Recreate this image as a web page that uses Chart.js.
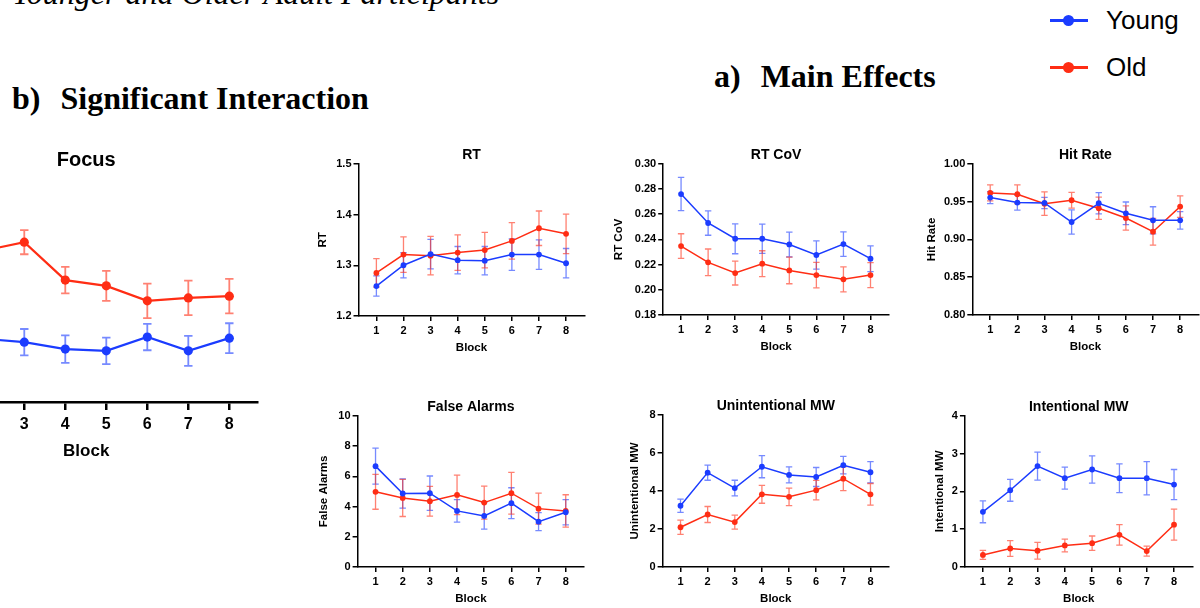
<!DOCTYPE html>
<html>
<head>
<meta charset="utf-8">
<title>Younger and Older Adult Participants</title>
<script src="https://cdn.jsdelivr.net/npm/chart.js@4.4.1/dist/chart.umd.min.js"></script>
<style>
  html, body { margin: 0; padding: 0; background: #fff; }
  body { width: 1200px; height: 608px; position: relative; overflow: hidden; }
  .panel { position: absolute; }
  .serif { position: absolute; font-family: "Liberation Serif", "Times New Roman", serif; font-size: 32px; white-space: nowrap; line-height: 1; }
  .heading { font-weight: bold; }
  .caption { font-style: italic; }
  .legend { position: absolute; left: 1050px; top: 0; font-family: "Liberation Sans", Arial, sans-serif; font-size: 26px; }
  .legend .row { position: absolute; left: 0; height: 30px; line-height: 30px; white-space: nowrap; }
  .legend .mark { position: absolute; left: 0; top: 14px; width: 38px; height: 3px; }
  .legend .mark::after { content: ""; position: absolute; left: 13px; top: -4px; width: 11px; height: 11px; border-radius: 50%; background: inherit; }
  .legend .label { position: absolute; left: 56px; top: 0; }
</style>
</head>
<body>

<div class="serif caption" style="left:12px; top:-23px;">Younger and Older Adult Participants</div>
<div class="serif heading" style="left:12px; top:82px;">b)<span style="margin-left:20px">Significant Interaction</span></div>
<div class="serif heading" style="left:714px; top:60px;">a)<span style="margin-left:20px">Main Effects</span></div>

<div class="legend">
  <div class="row" style="top:5px"><span class="mark" style="background:#1b3cff"></span><span class="label">Young</span></div>
  <div class="row" style="top:52px"><span class="mark" style="background:#ff2d14"></span><span class="label">Old</span></div>
</div>

<script>
// blocks on the x axis
const blocks = [1, 2, 3, 4, 5, 6, 7, 8];

// Focus (interaction)
const focusYoung    = [2.17, 2.10, 2.04, 1.92, 1.89, 2.13, 1.89, 2.11];
const focusYoungErr = [0.23, 0.23, 0.23, 0.24, 0.23, 0.23, 0.26, 0.26];
const focusOld      = [3.56, 3.63, 3.78, 3.12, 3.02, 2.76, 2.81, 2.84];
const focusOldErr   = [0.22, 0.22, 0.21, 0.23, 0.26, 0.30, 0.30, 0.30];
const focusTicks    = [1, 2, 3, 4, 5];

// RT
const rtYoung    = [1.259, 1.300, 1.322, 1.310, 1.309, 1.321, 1.321, 1.304];
const rtYoungErr = [0.020, 0.025, 0.029, 0.027, 0.028, 0.031, 0.029, 0.029];
const rtOld      = [1.285, 1.321, 1.319, 1.325, 1.330, 1.348, 1.373, 1.362];
const rtOldErr   = [0.028, 0.035, 0.038, 0.035, 0.035, 0.036, 0.034, 0.039];
const rtTicks    = [1.2, 1.3, 1.4, 1.5];

// RT CoV
const covYoung    = [0.276, 0.253, 0.2405, 0.2405, 0.236, 0.2276, 0.2363, 0.2247];
const covYoungErr = [0.0132, 0.0097, 0.0119, 0.0116, 0.0098, 0.0112, 0.0097, 0.0102];
const covOld      = [0.2347, 0.2218, 0.2133, 0.2207, 0.2154, 0.2117, 0.2083, 0.2117];
const covOldErr   = [0.0098, 0.0106, 0.0095, 0.0103, 0.0106, 0.0101, 0.0099, 0.0099];
const covTicks    = [0.18, 0.20, 0.22, 0.24, 0.26, 0.28, 0.30];

// Hit Rate
const hitYoung    = [0.9553, 0.9487, 0.9482, 0.9230, 0.9478, 0.9345, 0.9252, 0.9252];
const hitYoungErr = [0.008, 0.010, 0.0075, 0.016, 0.014, 0.015, 0.018, 0.0115];
const hitOld      = [0.9615, 0.9597, 0.9473, 0.9518, 0.9412, 0.9283, 0.9102, 0.9434];
const hitOldErr   = [0.0106, 0.0124, 0.0155, 0.0104, 0.0146, 0.016, 0.0177, 0.0142];
const hitTicks    = [0.80, 0.85, 0.90, 0.95, 1.00];

// False Alarms
const faYoung    = [6.67, 4.86, 4.88, 3.71, 3.38, 4.22, 3.00, 3.62];
const faYoungErr = [1.19, 0.97, 1.14, 0.74, 0.88, 1.02, 0.60, 0.84];
const faOld      = [4.97, 4.57, 4.35, 4.77, 4.26, 4.88, 3.86, 3.71];
const faOldErr   = [1.15, 1.23, 0.98, 1.30, 1.09, 1.38, 1.02, 1.07];
const faTicks    = [0, 2, 4, 6, 8, 10];

// Unintentional MW
const umwYoung    = [3.22, 4.96, 4.15, 5.27, 4.84, 4.73, 5.35, 4.98];
const umwYoungErr = [0.35, 0.40, 0.41, 0.58, 0.42, 0.50, 0.46, 0.56];
const umwOld      = [2.09, 2.76, 2.36, 3.82, 3.69, 4.04, 4.64, 3.82];
const umwOldErr   = [0.37, 0.42, 0.37, 0.47, 0.46, 0.51, 0.63, 0.57];
const umwTicks    = [0, 2, 4, 6, 8];

// Intentional MW
const imwYoung    = [1.46, 2.03, 2.67, 2.35, 2.58, 2.35, 2.35, 2.18];
const imwYoungErr = [0.29, 0.29, 0.37, 0.29, 0.36, 0.38, 0.44, 0.40];
const imwOld      = [0.32, 0.49, 0.43, 0.57, 0.63, 0.85, 0.42, 1.12];
const imwOldErr   = [0.12, 0.21, 0.22, 0.17, 0.19, 0.27, 0.13, 0.41];
const imwTicks    = [0, 1, 2, 3, 4];

const BLUE = '#1b3cff', BLUE_ERR = 'rgba(27, 60, 255, 0.6)';
const RED = '#ff2d14', RED_ERR = 'rgba(255, 45, 20, 0.6)';
const FONT = "'Liberation Sans', Arial, Helvetica, sans-serif";
const X_MIN = 0.34, X_MAX = 8.68;

Chart.defaults.font.family = FONT;
Chart.defaults.color = '#000';

// vertical SEM bars with caps, drawn under the lines
const errorBars = {
  id: 'errorBars',
  beforeDatasetsDraw(chart, args, opts) {
    const ctx = chart.ctx;
    const xs = chart.scales.x, ys = chart.scales.y;
    chart.data.datasets.forEach(ds => {
      ctx.save();
      ctx.strokeStyle = ds.errorColor;
      ctx.lineWidth = opts.width;
      ds.data.forEach((pt, j) => {
        const x = xs.getPixelForValue(pt.x);
        const hi = ys.getPixelForValue(pt.y + ds.errors[j]);
        const lo = ys.getPixelForValue(pt.y - ds.errors[j]);
        ctx.beginPath();
        ctx.moveTo(x, hi); ctx.lineTo(x, lo);
        ctx.moveTo(x - opts.cap, hi); ctx.lineTo(x + opts.cap, hi);
        ctx.moveTo(x - opts.cap, lo); ctx.lineTo(x + opts.cap, lo);
        ctx.stroke();
      });
      ctx.restore();
    });
  }
};

function points(values) {
  return blocks.map((b, i) => ({ x: b, y: values[i] }));
}

function makePanel(p) {
  const s = p.style;
  const [left, top, right, bottom] = p.area;
  const titleBox = 2 + s.titleSize * 1.2;
  const yWidth = p.yTitleGap + 4 + s.axisTitleSize * 0.6;
  const box = document.createElement('div');
  box.className = 'panel';
  const w = Math.round(right - left + yWidth + 6);
  const h = Math.round(bottom - top + titleBox + s.xHeight);
  box.style.left = (left - yWidth) + 'px';
  box.style.top = (top - titleBox) + 'px';
  const canvas = document.createElement('canvas');
  canvas.width = w; canvas.height = h;
  box.appendChild(canvas);
  document.body.appendChild(box);

  const dataset = (label, values, errs, color, errColor) => ({
    label: label,
    data: points(values),
    errors: errs,
    errorColor: errColor,
    borderColor: color,
    backgroundColor: color,
    borderWidth: s.lineWidth,
    pointRadius: s.pointRadius,
    pointBorderWidth: 0,
    pointBackgroundColor: color,
    tension: 0
  });

  return new Chart(canvas, {
    type: 'line',
    data: {
      datasets: [
        dataset('Young', p.young, p.youngErr, BLUE, BLUE_ERR),
        dataset('Old', p.old, p.oldErr, RED, RED_ERR)
      ]
    },
    options: {
      responsive: false,
      animation: false,
      layout: { padding: { left: 0, right: w - (right - left + yWidth), top: 0, bottom: 0 } },
      plugins: {
        legend: { display: false },
        tooltip: { enabled: false },
        title: {
          display: true,
          text: p.title,
          fullSize: false,
          font: { size: s.titleSize, weight: 'bold' },
          padding: { top: 2, bottom: 0 }
        },
        errorBars: { width: s.errWidth, cap: s.cap }
      },
      scales: {
        x: {
          type: 'linear',
          min: X_MIN,
          max: X_MAX,
          afterBuildTicks: scale => { scale.ticks = blocks.map(v => ({ value: v })); },
          afterFit: scale => { scale.height = s.xHeight; },
          ticks: { autoSkip: false, maxRotation: 0, padding: s.tickPad, font: { size: s.tickSize, weight: 'bold' }, callback: v => String(v) },
          grid: { display: true, drawOnChartArea: false, drawTicks: true, tickLength: s.tickLength, color: '#000', lineWidth: s.axisWidth },
          border: { display: true, color: '#000', width: s.axisWidth },
          title: { display: true, text: 'Block', font: { size: s.axisTitleSize, weight: 'bold' }, padding: { top: 4, bottom: 4 } }
        },
        y: {
          min: p.yTicks[0],
          max: p.yTicks[p.yTicks.length - 1],
          afterBuildTicks: scale => { scale.ticks = p.yTicks.map(v => ({ value: v })); },
          afterFit: scale => { scale.width = yWidth; },
          ticks: { autoSkip: false, padding: 2, font: { size: s.tickSize, weight: 'bold' }, callback: v => v.toFixed(p.digits) },
          grid: { display: true, drawOnChartArea: false, drawTicks: true, tickLength: s.tickLength, color: '#000', lineWidth: s.axisWidth },
          border: { display: true, color: '#000', width: s.axisWidth },
          title: { display: true, text: p.yLabel, font: { size: s.axisTitleSize, weight: 'bold' }, padding: { top: 4, bottom: 4 } }
        }
      }
    },
    plugins: [errorBars]
  });
}

const small = {
  titleSize: 14, tickSize: 11, axisTitleSize: 11.5, tickPad: 3.2, tickLength: 5,
  xHeight: 43, axisWidth: 1.5, lineWidth: 1.5, pointRadius: 2.9, errWidth: 1.3, cap: 3.2
};
const large = {
  titleSize: 20, tickSize: 16, axisTitleSize: 17, tickPad: 4.5, tickLength: 8,
  xHeight: 64, axisWidth: 2.5, lineWidth: 2.2, pointRadius: 4.6, errWidth: 1.8, cap: 4.2
};

const panels = [
  { title: 'Focus', yLabel: 'Focus', young: focusYoung, youngErr: focusYoungErr, old: focusOld, oldErr: focusOldErr,
    yTicks: focusTicks, digits: 0, area: [-85, 172, 257, 402], yTitleGap: 50, style: large },
  { title: 'RT', yLabel: 'RT', young: rtYoung, youngErr: rtYoungErr, old: rtOld, oldErr: rtOldErr,
    yTicks: rtTicks, digits: 1, area: [358.3, 164, 584.3, 315.7], yTitleGap: 35.6, style: small },
  { title: 'RT CoV', yLabel: 'RT CoV', young: covYoung, youngErr: covYoungErr, old: covOld, oldErr: covOldErr,
    yTicks: covTicks, digits: 2, area: [663.3, 164, 889, 315.3], yTitleGap: 44.3, style: small },
  { title: 'Hit Rate', yLabel: 'Hit Rate', young: hitYoung, youngErr: hitYoungErr, old: hitOld, oldErr: hitOldErr,
    yTicks: hitTicks, digits: 2, area: [972.7, 163.3, 1199, 314], yTitleGap: 40.4, style: small },
  { title: 'False Alarms', yLabel: 'False Alarms', young: faYoung, youngErr: faYoungErr, old: faOld, oldErr: faOldErr,
    yTicks: faTicks, digits: 0, area: [357.7, 415.7, 584.3, 566.7], yTitleGap: 33.7, style: small },
  { title: 'Unintentional MW', yLabel: 'Unintentional MW', young: umwYoung, youngErr: umwYoungErr, old: umwOld, oldErr: umwOldErr,
    yTicks: umwTicks, digits: 0, area: [662.7, 415, 889, 566.7], yTitleGap: 27.7, style: small },
  { title: 'Intentional MW', yLabel: 'Intentional MW', young: imwYoung, youngErr: imwYoungErr, old: imwOld, oldErr: imwOldErr,
    yTicks: imwTicks, digits: 0, area: [965, 415.3, 1192.7, 566.7], yTitleGap: 25, style: small }
];

panels.forEach(makePanel);
</script>
</body>
</html>
